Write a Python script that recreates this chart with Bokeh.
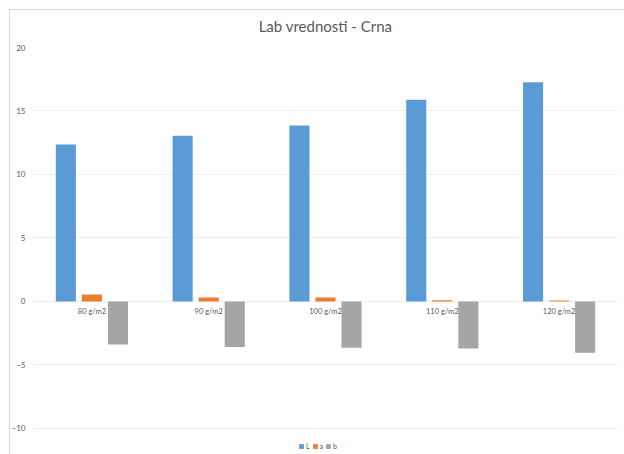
from bokeh.plotting import figure
from bokeh.models import ColumnDataSource, Range1d, FactorRange, Legend, LegendItem, FixedTicker, InlineStyleSheet
from bokeh.transform import dodge
from bokeh.core.properties import value
from bokeh.embed import file_html
from bokeh.resources import INLINE

# Lab colour values for black print, per paper grammage
categories = ["80 g/m2", "90 g/m2", "100 g/m2", "110 g/m2", "120 g/m2"]
L_vals = [12.36, 13.05, 13.86, 15.88, 17.27]
a_vals = [0.55, 0.30, 0.30, 0.10, 0.08]
b_vals = [-3.40, -3.60, -3.65, -3.70, -4.05]
y_ticks = [-10, -5, 0, 5, 10, 15, 20]

FONT = "Lato"
TXT = "#595959"

src = ColumnDataSource(data=dict(cat=categories, L=L_vals, a=a_vals, b=b_vals,
                                 zero=[0] * len(categories)))

# thin chart-area border drawn over the canvas
chart_border = InlineStyleSheet(css="""
:host::after {
  content: "";
  position: absolute;
  top: 9px; left: 9px; right: 0; bottom: 0;
  border-top: 1px solid #d9d9d9;
  border-left: 1px solid #d9d9d9;
  pointer-events: none;
}
""")

# the frame runs a little below -10 so the legend can sit inside it
p = figure(width=624, height=454, x_range=FactorRange(*categories, range_padding=0),
           y_range=Range1d(-11.9, 20), output_backend="svg", toolbar_location=None,
           min_border_left=33, min_border_right=7, min_border_top=47, min_border_bottom=2,
           stylesheets=[chart_border])

p.title.text = "Lab vrednosti - Crna"
p.title.align = "center"
p.title.text_font = FONT
p.title.text_font_style = "normal"
p.title.text_font_size = "15px"
p.title.text_color = TXT
p.title.offset = 0
p.title.standoff = 25

p.outline_line_color = None
p.background_fill_color = "white"
p.border_fill_color = "white"

w = 0.172
step = 0.223
rL = p.vbar(x=dodge("cat", -step, range=p.x_range), top="L", width=w, source=src,
            fill_color="#5B9BD5", line_color=None)
ra = p.vbar(x=dodge("cat", 0, range=p.x_range), top="a", width=w, source=src,
            fill_color="#ED7D31", line_color=None)
rb = p.vbar(x=dodge("cat", step, range=p.x_range), top="b", width=w, source=src,
            fill_color="#A5A5A5", line_color=None)

# category labels sit just under the zero line
p.text(x="cat", y="zero", text="cat", source=src, text_align="center",
       text_baseline="top", y_offset=6, text_font=value(FONT),
       text_font_size="7.5px", text_color=TXT)

p.xaxis.visible = False
p.xgrid.grid_line_color = None
p.ygrid.grid_line_color = "#eeeeee"
p.ygrid.grid_line_width = 1

yax = p.yaxis[0]
yax.ticker = FixedTicker(ticks=y_ticks)
yax.axis_line_color = None
yax.major_tick_line_color = None
yax.minor_tick_line_color = None
yax.major_tick_out = 0
yax.major_tick_in = 0
yax.major_label_text_font = FONT
yax.major_label_text_font_size = "8px"
yax.major_label_text_color = TXT
yax.major_label_standoff = 8

legend = Legend(items=[LegendItem(label="L", renderers=[rL]),
                       LegendItem(label="a", renderers=[ra]),
                       LegendItem(label="b", renderers=[rb])],
                orientation="horizontal", location=(265, 2),
                label_text_font=FONT, label_text_font_size="7px",
                label_text_color=TXT, glyph_width=6, glyph_height=6,
                label_height=8, label_width=3, label_standoff=2, spacing=2,
                padding=2, margin=0, border_line_color=None,
                background_fill_alpha=0)
p.add_layout(legend)

open("out.html", "w").write(file_html(p, INLINE))
